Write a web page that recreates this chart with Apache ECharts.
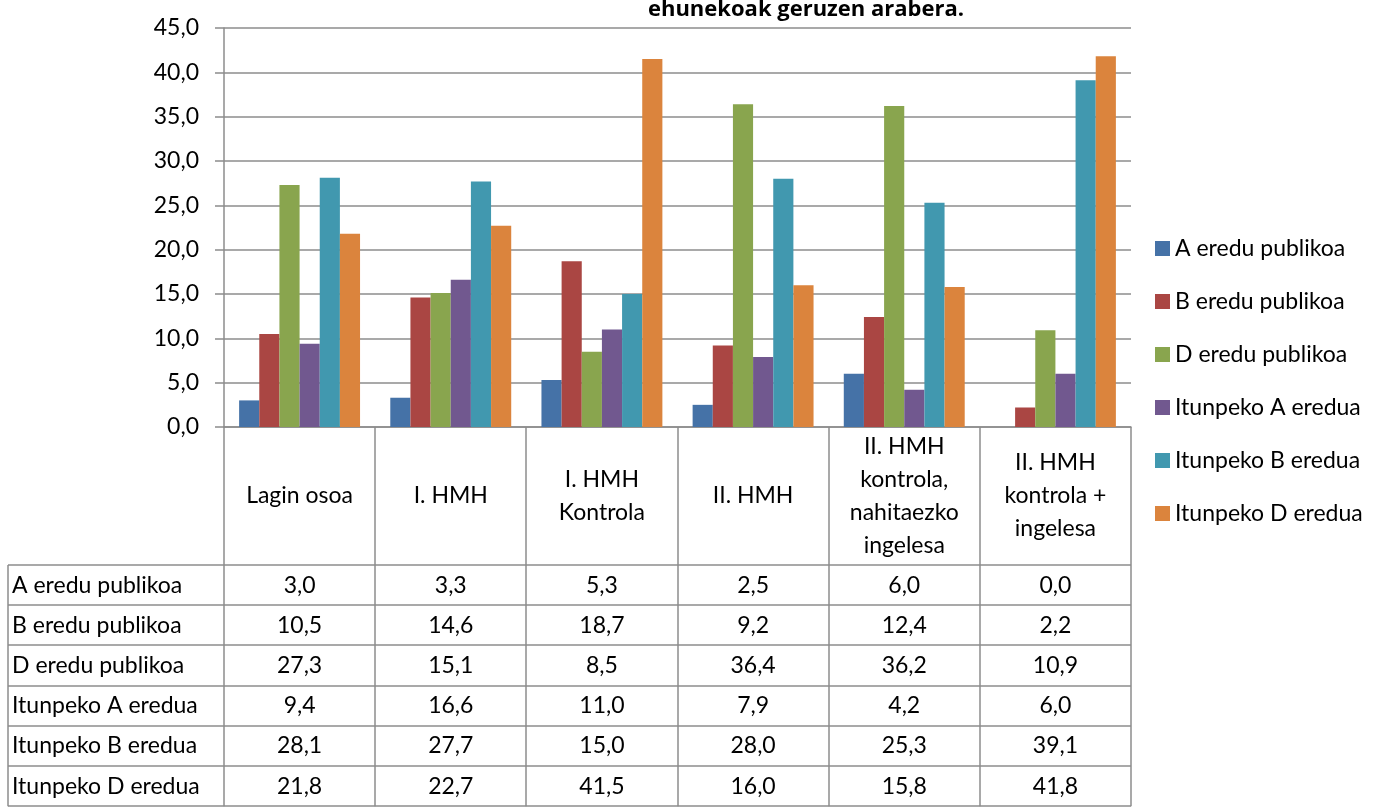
<!DOCTYPE html>
<html>
<head>
<meta charset="utf-8">
<script src="https://cdn.jsdelivr.net/npm/echarts@6/dist/echarts.min.js"></script>
<style>
    html, body { margin: 0; padding: 0; background: #fff; }
    #chart-bar { width: 1376px; height: 808px; }
</style>
</head>
<body>
<div id="chart-bar"></div>
<script>
// data
var categories = ['Lagin osoa', 'I. HMH', 'I. HMH\nKontrola', 'II. HMH', 'II. HMH\nkontrola,\nnahitaezko\ningelesa', 'II. HMH\nkontrola +\ningelesa'];
var seriesNames = ['A eredu publikoa', 'B eredu publikoa', 'D eredu publikoa', 'Itunpeko A eredua', 'Itunpeko B eredua', 'Itunpeko D eredua'];
var aPublic = [3.0, 3.3, 5.3, 2.5, 6.0, 0.0];
var bPublic = [10.5, 14.6, 18.7, 9.2, 12.4, 2.2];
var dPublic = [27.3, 15.1, 8.5, 36.4, 36.2, 10.9];
var aItun = [9.4, 16.6, 11.0, 7.9, 4.2, 6.0];
var bItun = [28.1, 27.7, 15.0, 28.0, 25.3, 39.1];
var dItun = [21.8, 22.7, 41.5, 16.0, 15.8, 41.8];
var titleText = 'ehunekoak geruzen arabera.';

var allValues = [aPublic, bPublic, dPublic, aItun, bItun, dItun];
var colors = ['#4572A7', '#AA4643', '#89A54E', '#71588F', '#4198AF', '#DB843D'];
var FONT = 'Lato';
var FS = 23;
var lineColor = '#8c8c8c';

// layout
var plotLeft = 224, plotRight = 1131, plotTop = 28, plotBottom = 427;
var headerBottom = 565, rowH = 40.2, tableLeft = 8;

function fmt(v) {
    return v.toFixed(1).replace('.', ',');
}

let b_chart = echarts.init(document.getElementById('chart-bar'));

var series = seriesNames.map(function (name, i) {
    return {
        name: name,
        type: 'bar',
        barGap: '0%',
        barCategoryGap: '20%',
        itemStyle: { color: colors[i] },
        data: allValues[i]
    };
});

//table under the chart
var graphics = [];
var colW = (plotRight - plotLeft) / categories.length;
var tableBottom = headerBottom + rowH * seriesNames.length;

for (let r = 0; r <= seriesNames.length; r++) {
    let y = Math.round(headerBottom + rowH * r);
    graphics.push({
        type: 'line',
        shape: { x1: tableLeft, y1: y, x2: plotRight, y2: y },
        style: { stroke: lineColor, lineWidth: 1.5 }
    });
}
graphics.push({
    type: 'line',
    shape: { x1: tableLeft, y1: headerBottom, x2: tableLeft, y2: tableBottom },
    style: { stroke: lineColor, lineWidth: 1.5 }
});
for (let c = 0; c <= categories.length; c++) {
    let x = Math.round(plotLeft + colW * c);
    graphics.push({
        type: 'line',
        shape: { x1: x, y1: plotBottom, x2: x, y2: tableBottom },
        style: { stroke: lineColor, lineWidth: 1.5 }
    });
}
seriesNames.forEach(function (name, r) {
    let cy = headerBottom + rowH * (r + 0.5);
    graphics.push({
        type: 'text',
        x: tableLeft + 4,
        y: cy,
        style: { text: name, font: FS + 'px ' + FONT, fill: '#000', textVerticalAlign: 'middle' }
    });
    allValues[r].forEach(function (v, c) {
        graphics.push({
            type: 'text',
            x: plotLeft + colW * (c + 0.5),
            y: cy,
            style: { text: fmt(v), font: FS + 'px ' + FONT, fill: '#000', textAlign: 'center', textVerticalAlign: 'middle' }
        });
    });
});
graphics.push({
    type: 'text',
    x: 806,
    y: 10,
    style: { text: titleText, font: 'bold 22px "Open Sans"', fill: '#000', textAlign: 'center', textVerticalAlign: 'middle' }
});

var b_option = {
    animation: false,
    textStyle: { fontFamily: FONT },
    grid: {
        left: plotLeft,
        right: 1376 - plotRight,
        top: plotTop,
        bottom: 808 - plotBottom
    },
    legend: {
        orient: 'vertical',
        left: 1150,
        top: 232,
        itemWidth: 15,
        itemHeight: 15,
        itemGap: 30,
        icon: 'rect',
        textStyle: { fontSize: FS, lineHeight: 23, color: '#000', fontFamily: FONT },
        data: seriesNames
    },
    xAxis: {
        type: 'category',
        data: categories,
        axisLine: { show: true, lineStyle: { color: lineColor, width: 1.5 } },
        axisTick: { show: false },
        axisLabel: {
            interval: 0,
            color: '#000',
            fontSize: FS,
            fontFamily: FONT,
            lineHeight: 33,
            margin: 69,
            verticalAlign: 'middle'
        }
    },
    yAxis: {
        type: 'value',
        min: 0,
        max: 45,
        interval: 5,
        axisLine: { show: true, lineStyle: { color: lineColor, width: 1.5 } },
        axisTick: { show: true, length: 9, lineStyle: { color: lineColor, width: 1.5 } },
        splitLine: { show: true, lineStyle: { color: lineColor, width: 1.5 } },
        axisLabel: {
            color: '#000',
            fontSize: FS,
            fontFamily: FONT,
            margin: 25,
            formatter: function (v) { return fmt(v); }
        }
    },
    graphic: graphics,
    series: series
};

b_chart.setOption(b_option);
</script>
</body>
</html>
